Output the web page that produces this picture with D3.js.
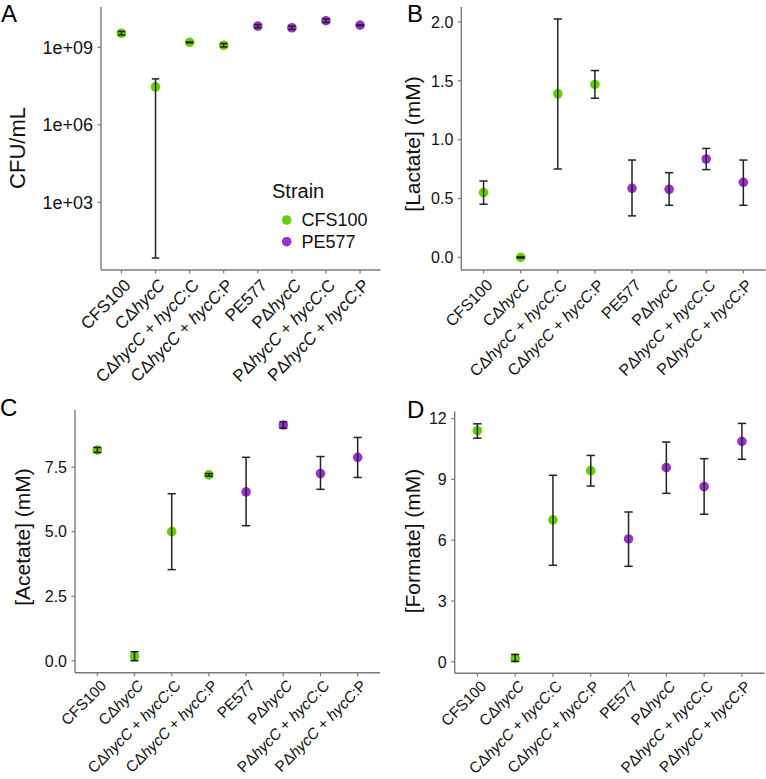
<!DOCTYPE html>
<html>
<head>
<meta charset="utf-8">
<script src="https://cdn.jsdelivr.net/npm/d3@7"></script>
<style>
  html, body { margin: 0; padding: 0; background: #fff; }
  svg { display: block; font-family: "Liberation Sans", Arial, Helvetica, sans-serif; }
</style>
</head>
<body>
<svg id="chart" width="766" height="779"></svg>
<script>
// ---------------- data ----------------
const categories = ["CFS100", "CΔhycC", "CΔhycC + hycC:C", "CΔhycC + hycC:P",
                    "PE577", "PΔhycC", "PΔhycC + hycC:C", "PΔhycC + hycC:P"];
const strains = ["CFS100", "CFS100", "CFS100", "CFS100", "PE577", "PE577", "PE577", "PE577"];
const strainNames = ["CFS100", "PE577"];
const strainColors = ["#66CD00", "#9A32CD"];

// A: CFU/mL
const cfuMean = [3.5e9, 2.95e7, 1.55e9, 1.2e9, 6.6e9, 5.7e9, 1.07e10, 7.2e9];
const cfuLow  = [3.0e9, 7,      1.49e9, 1.03e9, 5.7e9, 4.9e9, 9.1e9,  6.9e9];
const cfuHigh = [4.1e9, 6.0e7,  1.61e9, 1.40e9, 7.6e9, 6.6e9, 1.25e10, 7.5e9];
const cfuTicks = [1e3, 1e6, 1e9];
const cfuTickLabels = ["1e+03", "1e+06", "1e+09"];

// B: Lactate (mM)
const lactateMean = [0.551, 0.0,    1.39,  1.469, 0.587, 0.579, 0.836, 0.638];
const lactateLow  = [0.452, -0.005, 0.751, 1.352, 0.353, 0.443, 0.746, 0.443];
const lactateHigh = [0.649, 0.005,  2.025, 1.587, 0.827, 0.720, 0.926, 0.827];
const lactateTicks = [0, 0.5, 1.0, 1.5, 2.0];

// C: Acetate (mM)
const acetateMean = [8.16, 0.17, 5.00, 7.20, 6.54, 9.13, 7.25, 7.88];
const acetateLow  = [8.07, 0.00, 3.53, 7.15, 5.23, 9.01, 6.64, 7.10];
const acetateHigh = [8.26, 0.35, 6.47, 7.25, 7.88, 9.25, 7.91, 8.65];
const acetateTicks = [0, 2.5, 5.0, 7.5];

// D: Formate (mM)
const formateMean = [11.40, 0.18, 7.00, 9.43, 6.06, 9.58, 8.64, 10.87];
const formateLow  = [11.03, 0.02, 4.76, 8.67, 4.71, 8.31, 7.28, 9.99];
const formateHigh = [11.74, 0.36, 9.20, 10.18, 7.39, 10.84, 10.02, 11.76];
const formateTicks = [0, 3, 6, 9, 12];

// ---------------- layout ----------------
const svg = d3.select("#chart");
const AXIS_COLOR = "#7a7a7a";
const TEXT_COLOR = "#111";
const colorOf = d3.scaleOrdinal().domain(strainNames).range(strainColors);

const panels = [
  { letter: "A", lx: 1, ly: 22, box: { l: 101, r: 380.5, t: 7, b: 270 }, log: true,
    mean: cfuMean, low: cfuLow, high: cfuHigh, ticks: cfuTicks, tickLabels: cfuTickLabels,
    title: "CFU/mL", titleX: 25, titleY: 148, titleSize: 22, ytSize: 18, xtSize: 17, xOff: 12, legend: true },
  { letter: "B", lx: 407, ly: 22, box: { l: 461.3, r: 765.6, t: 7, b: 270 },
    mean: lactateMean, low: lactateLow, high: lactateHigh, ticks: lactateTicks,
    tickLabels: lactateTicks.map(d3.format(".1f")),
    title: "[Lactate] (mM)", titleX: 420, titleY: 144, titleSize: 21, ytSize: 16, xtSize: 16, xOff: 12 },
  { letter: "C", lx: 0, ly: 416, box: { l: 75, r: 380, t: 410, b: 672.7 },
    mean: acetateMean, low: acetateLow, high: acetateHigh, ticks: acetateTicks,
    tickLabels: acetateTicks.map(d3.format(".1f")),
    title: "[Acetate] (mM)", titleX: 30, titleY: 537, titleSize: 21, ytSize: 16, xtSize: 15.3, xOff: 10 },
  { letter: "D", lx: 407, ly: 418, box: { l: 454.7, r: 764.6, t: 411.5, b: 673.3 },
    mean: formateMean, low: formateLow, high: formateHigh, ticks: formateTicks,
    tickLabels: formateTicks.map(String),
    title: "[Formate] (mM)", titleX: 420, titleY: 541, titleSize: 21, ytSize: 16, xtSize: 15.3, xOff: 10 }
];

function addRichLabel(textSel, label) {
  const parts = label.split(/(hycC)/);
  parts.forEach(p => {
    if (!p) return;
    textSel.append("tspan").attr("font-style", p === "hycC" ? "italic" : "normal").text(p);
  });
}

panels.forEach(p => {
  const g = svg.append("g");
  const { l, r, t, b } = p.box;

  // x scale: discrete with ggplot-like 0.6 expansion
  const n = categories.length;
  const xLin = d3.scaleLinear().domain([1 - 0.6, n + 0.6]).range([l, r]);
  const x = (i) => xLin(i + 1);
  const step = xLin(2) - xLin(1);

  // y scale with 5% expansion computed from the data
  let y;
  if (p.log) {
    const lo = d3.min(p.low.map(Math.log10)), hi = d3.max(p.high.map(Math.log10));
    const pad = (hi - lo) * 0.05;
    y = d3.scaleLog().domain([Math.pow(10, lo - pad), Math.pow(10, hi + pad)]).range([b, t]);
  } else {
    const lo = d3.min(p.low), hi = d3.max(p.high);
    const pad = (hi - lo) * 0.05;
    y = d3.scaleLinear().domain([lo - pad, hi + pad]).range([b, t]);
  }

  // axes lines
  g.append("line").attr("x1", l).attr("x2", l).attr("y1", t).attr("y2", b)
    .attr("stroke", AXIS_COLOR).attr("stroke-width", 1.4);
  g.append("line").attr("x1", l).attr("x2", r).attr("y1", b).attr("y2", b)
    .attr("stroke", AXIS_COLOR).attr("stroke-width", 1.4);

  // y ticks
  p.ticks.forEach((v, i) => {
    const yy = y(v);
    g.append("line").attr("x1", l - 3.5).attr("x2", l).attr("y1", yy).attr("y2", yy)
      .attr("stroke", AXIS_COLOR).attr("stroke-width", 1.2);
    g.append("text").attr("x", l - 8).attr("y", yy).attr("dy", "0.36em")
      .attr("text-anchor", "end").attr("font-size", p.ytSize).attr("fill", TEXT_COLOR)
      .text(p.tickLabels[i]);
  });

  // x ticks & labels
  categories.forEach((c, i) => {
    const xx = x(i);
    g.append("line").attr("x1", xx).attr("x2", xx).attr("y1", b).attr("y2", b + 3.5)
      .attr("stroke", AXIS_COLOR).attr("stroke-width", 1.2);
    const tx = g.append("text")
      .attr("transform", `translate(${xx + 6},${b + p.xOff}) rotate(-45)`)
      .attr("dy", "0.36em").attr("text-anchor", "end")
      .attr("font-size", p.xtSize).attr("fill", TEXT_COLOR);
    addRichLabel(tx, c);
  });

  // points
  categories.forEach((c, i) => {
    g.append("circle").attr("cx", x(i)).attr("cy", y(p.mean[i])).attr("r", 4.8)
      .attr("fill", colorOf(strains[i]));
  });

  // error bars
  const cap = step * 0.11;
  categories.forEach((c, i) => {
    const xx = x(i), y1 = y(p.low[i]), y2 = y(p.high[i]);
    const eg = g.append("g").attr("stroke", "#222").attr("stroke-width", 1.5);
    eg.append("line").attr("x1", xx).attr("x2", xx).attr("y1", y1).attr("y2", y2);
    eg.append("line").attr("x1", xx - cap).attr("x2", xx + cap).attr("y1", y1).attr("y2", y1);
    eg.append("line").attr("x1", xx - cap).attr("x2", xx + cap).attr("y1", y2).attr("y2", y2);
  });

  // y title
  g.append("text").attr("transform", `translate(${p.titleX},${p.titleY}) rotate(-90)`)
    .attr("text-anchor", "middle").attr("font-size", p.titleSize).attr("fill", TEXT_COLOR)
    .text(p.title);

  // panel letter
  g.append("text").attr("x", p.lx).attr("y", p.ly).attr("font-size", 24)
    .attr("fill", "#000").text(p.letter);

  // legend
  if (p.legend) {
    const lg = g.append("g");
    lg.append("text").attr("x", 272).attr("y", 198).attr("font-size", 20)
      .attr("fill", TEXT_COLOR).text("Strain");
    strainNames.forEach((s, k) => {
      const yy = 220 + k * 21.7;
      lg.append("circle").attr("cx", 286.7).attr("cy", yy).attr("r", 4.8).attr("fill", colorOf(s));
      lg.append("text").attr("x", 301.5).attr("y", yy).attr("dy", "0.36em")
        .attr("font-size", 18).attr("fill", TEXT_COLOR).text(s);
    });
  }
});
</script>
</body>
</html>
